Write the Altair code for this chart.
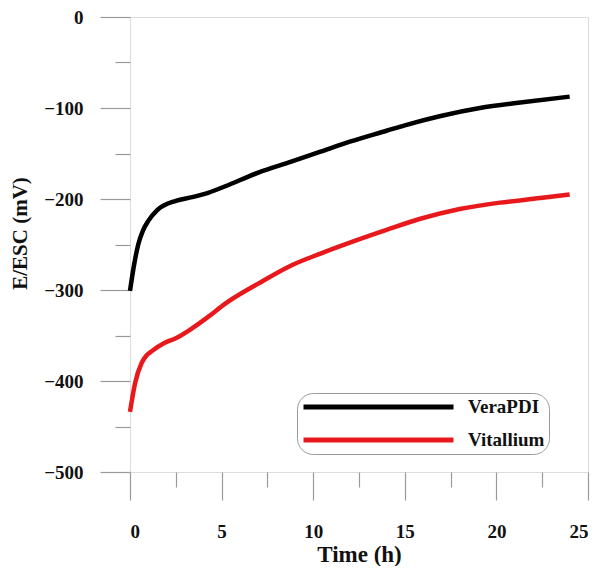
import altair as alt
import pandas as pd

# ---- data ----
vera_t = [0, 0.2, 0.45, 0.7, 1.0, 1.5, 2.5, 3.4, 4.3, 5.2, 7.0, 8.8, 10.4, 12.0, 14.0, 15.0, 16.9, 19.1, 21.3, 24.0]
vera_v = [-301, -275, -250, -235, -224, -212, -202, -198, -193, -186, -171, -159, -148, -137, -125, -119, -109, -100, -94, -87.5]

vita_t = [0, 0.27, 0.64, 0.9, 1.2, 1.9, 2.5, 3.4, 4.3, 5.2, 7.0, 8.8, 10.4, 12.0, 14.0, 15.8, 18.0, 20.2, 22.4, 24.0]
vita_v = [-434, -403, -380, -372, -367, -358, -353, -342, -329, -315, -293, -273, -260, -248, -234, -222, -211, -204, -199, -195]

series_names = ["VeraPDI", "Vitallium"]
series_colors = ["#000000", "#e8191c"]

x_major = [0, 5, 10, 15, 20, 25]
x_minor = [2.5, 7.5, 12.5, 17.5, 22.5]
y_major = [0, -100, -200, -300, -400, -500]
y_minor = [-50, -150, -250, -350, -450]

df = pd.DataFrame({
    "t": vera_t + vita_t,
    "v": vera_v + vita_v,
    "series": [series_names[0]] * len(vera_t) + [series_names[1]] * len(vita_t),
})

FONT = "Liberation Serif"
GRAY = "#9a9a9a"

xscale = alt.Scale(domain=[0, 25], nice=False, zero=False)
yscale = alt.Scale(domain=[-500, 0], nice=False, zero=False)

x_axis = alt.Axis(
    values=x_major, orient="bottom", tickSize=28, tickColor=GRAY, tickWidth=1.2,
    domain=False, grid=False, labelFont=FONT, labelFontSize=19, labelFontWeight="bold",
    labelColor="#111", labelPadding=22, title="Time (h)", titleFont=FONT,
    titleFontSize=23, titleFontWeight="bold", titleColor="#111", titlePadding=2,
)
y_axis = alt.Axis(
    values=y_major, orient="left", tickSize=30, tickColor=GRAY, tickWidth=1.2,
    domain=False, grid=False, labelFont=FONT, labelFontSize=19, labelFontWeight="bold",
    labelColor="#111", labelPadding=17, title="E/ESC (mV)", titleFont=FONT,
    titleFontSize=21, titleFontWeight="bold", titleColor="#111", titlePadding=13,
    titleY=216,
)

x_minor_axis = alt.Axis(
    values=x_minor, orient="bottom", tickSize=15, tickColor=GRAY, tickWidth=1.2,
    domain=False, grid=False, labels=False, title=None,
)
y_minor_axis = alt.Axis(
    values=y_minor, orient="left", tickSize=15, tickColor=GRAY, tickWidth=1.2,
    domain=False, grid=False, labels=False, title=None,
)

lines = alt.Chart(df).mark_line(strokeWidth=4.5, interpolate="monotone").encode(
    x=alt.X("t:Q", scale=xscale, axis=x_axis),
    y=alt.Y("v:Q", scale=yscale, axis=y_axis),
    color=alt.Color(
        "series:N",
        scale=alt.Scale(domain=series_names, range=series_colors),
        legend=alt.Legend(
            title=None, orient="none", legendX=167, legendY=376,
            symbolType="stroke", symbolSize=22500, symbolStrokeWidth=5,
            clipHeight=20, rowPadding=13, padding=4, labelOffset=12,
            labelFont=FONT, labelFontSize=19, labelFontWeight="bold", labelColor="#111",
            strokeColor=GRAY, cornerRadius=16, fillColor="white",
        ),
    ),
    detail="series:N",
)

minor = alt.Chart(df).mark_point(opacity=0).encode(
    x=alt.X("t:Q", scale=xscale, axis=x_minor_axis),
    y=alt.Y("v:Q", scale=yscale, axis=y_minor_axis),
)

chart = alt.layer(minor, lines).resolve_axis(x="independent", y="independent").properties(
    width=458, height=455,
    autosize=alt.AutoSizeParams(type="none"),
    padding={"left": 122, "top": 9, "right": 2, "bottom": 94},
).configure_view(stroke=GRAY, strokeWidth=1.2).configure(background="white")

chart.save("out.html", embed_options={"renderer": "svg", "actions": False})
